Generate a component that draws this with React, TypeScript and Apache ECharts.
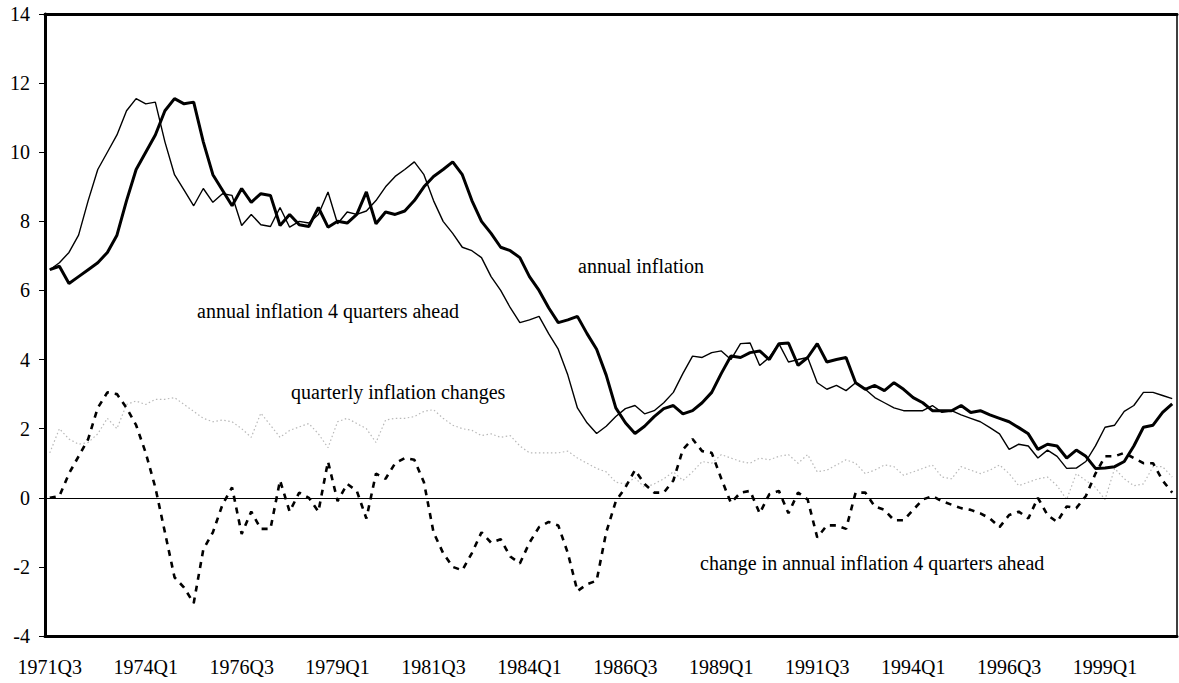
import React, { useEffect, useRef } from "react";
import * as echarts from "echarts";

// Quarterly categories 1971Q3 .. 2000Q4
const categories: string[] = [];
{
  let y = 1971;
  let q = 3;
  while (categories.length < 118) {
    categories.push(`${y}Q${q}`);
    q++;
    if (q > 4) {
      q = 1;
      y++;
    }
  }
}

const yTicks = { min: -4, max: 14, interval: 2 };

// annual inflation (thick line)
const annualInflation: number[] = [
  6.6, 6.7, 6.2, 6.4, 6.6, 6.8, 7.1, 7.6, 8.6, 9.5,
  10.0, 10.5, 11.2, 11.55, 11.4, 11.45, 10.3, 9.35, 8.9, 8.45,
  8.95, 8.55, 8.8, 8.75, 7.88, 8.2, 7.9, 7.85, 8.4, 7.83,
  8.0, 7.95, 8.2, 8.85, 7.93, 8.27, 8.2, 8.3, 8.6, 9.0,
  9.3, 9.5, 9.72, 9.35, 8.6, 8.0, 7.65, 7.25, 7.15, 6.95,
  6.4, 6.0, 5.5, 5.07, 5.15, 5.25, 4.75, 4.3, 3.55, 2.6,
  2.17, 1.86, 2.07, 2.35, 2.58, 2.67, 2.43, 2.52, 2.75, 3.05,
  3.6, 4.1, 4.06, 4.2, 4.25, 4.0, 4.46, 4.48, 3.83, 4.06,
  4.46, 3.93, 4.0, 4.06, 3.33, 3.14, 3.25, 3.1, 3.33, 3.14,
  2.9, 2.75, 2.52, 2.52, 2.52, 2.67, 2.47, 2.52, 2.4, 2.3,
  2.2, 2.03, 1.85, 1.4, 1.55, 1.5, 1.15, 1.38, 1.2, 0.85,
  0.86, 0.9, 1.05, 1.5, 2.04, 2.1, 2.47, 2.72,
];

// annual inflation 4 quarters ahead (thin line)
const annualInflation4Ahead: number[] = [
  6.6, 6.8, 7.1, 7.6, 8.6, 9.5, 10.0, 10.5, 11.2, 11.55,
  11.4, 11.45, 10.3, 9.35, 8.9, 8.45, 8.95, 8.55, 8.8, 8.75,
  7.88, 8.2, 7.9, 7.85, 8.4, 7.83, 8.0, 7.95, 8.2, 8.85,
  7.93, 8.27, 8.2, 8.3, 8.6, 9.0, 9.3, 9.5, 9.72, 9.35,
  8.6, 8.0, 7.65, 7.25, 7.15, 6.95, 6.4, 6.0, 5.5, 5.07,
  5.15, 5.25, 4.75, 4.3, 3.55, 2.6, 2.17, 1.86, 2.07, 2.35,
  2.58, 2.67, 2.43, 2.52, 2.75, 3.05, 3.6, 4.1, 4.06, 4.2,
  4.25, 4.0, 4.46, 4.48, 3.83, 4.06, 4.46, 3.93, 4.0, 4.06,
  3.33, 3.14, 3.25, 3.1, 3.33, 3.14, 2.9, 2.75, 2.6, 2.52,
  2.52, 2.52, 2.67, 2.47, 2.52, 2.4, 2.3, 2.2, 2.03, 1.85,
  1.4, 1.55, 1.5, 1.15, 1.38, 1.2, 0.85, 0.86, 1.05, 1.5,
  2.04, 2.1, 2.5, 2.67, 3.05, 3.05, 2.96, 2.87,
];

// change in annual inflation 4 quarters ahead (thick dashed)
const changeAhead: number[] = [
  0, 0.05, 0.7, 1.2, 1.7, 2.6, 3.05, 3.0, 2.6, 2.1,
  1.3, 0.3, -1.0, -2.3, -2.6, -3.05, -1.5, -1.0, -0.2, 0.3,
  -1.05, -0.4, -0.9, -0.9, 0.5, -0.4, 0.15, 0.0, -0.4, 1.05,
  -0.1, 0.4, 0.2, -0.6, 0.7, 0.55, 1.0, 1.15, 1.1, 0.45,
  -1.0, -1.6, -2.0, -2.1, -1.6, -1.0, -1.3, -1.2, -1.7, -1.9,
  -1.3, -0.85, -0.7, -0.8, -1.6, -2.7, -2.5, -2.4, -1.0, -0.1,
  0.3, 0.8, 0.4, 0.15, 0.15, 0.5, 1.4, 1.7, 1.35, 1.3,
  0.55, -0.15, 0.15, 0.2, -0.45, 0.1, 0.2, -0.45, 0.15, -0.05,
  -1.15, -0.8, -0.8, -0.9, 0.15, 0.15, -0.25, -0.35, -0.65, -0.65,
  -0.35, -0.05, 0.05, -0.1, -0.2, -0.3, -0.35, -0.45, -0.6, -0.85,
  -0.5, -0.4, -0.6, 0.0, -0.5, -0.7, -0.25, -0.3, 0.05, 0.7,
  1.2, 1.2, 1.3, 1.15, 1.0, 1.0, 0.5, 0.15,
];

// quarterly inflation changes (light grey dotted)
const quarterlyChanges: number[] = [
  1.3, 2.0, 1.7, 1.55, 1.6, 1.85, 2.3, 2.0, 2.7, 2.8,
  2.7, 2.85, 2.85, 2.9, 2.7, 2.5, 2.3, 2.2, 2.25, 2.2,
  2.0, 1.75, 2.45, 2.1, 1.75, 1.95, 2.05, 2.15, 1.85, 1.45,
  2.2, 2.3, 2.15, 2.0, 1.6, 2.25, 2.3, 2.3, 2.35, 2.5,
  2.55, 2.3, 2.1, 2.0, 1.95, 1.8, 1.85, 1.75, 1.8, 1.5,
  1.3, 1.3, 1.3, 1.3, 1.35, 1.15, 1.0, 0.85, 0.75, 0.45,
  0.4, 0.58, 0.3, 0.4, 0.55, 0.75, 0.5, 0.75, 1.05, 1.0,
  1.25, 1.15, 1.05, 1.0, 1.15, 1.1, 1.2, 1.25, 1.0, 1.25,
  0.75, 0.8, 0.95, 1.1, 1.0, 0.7, 0.8, 0.95, 0.9, 0.65,
  0.75, 0.85, 0.95, 0.6, 0.55, 0.9, 0.8, 0.7, 0.8, 0.95,
  0.7, 0.35, 0.45, 0.55, 0.6, 0.35, -0.05, 0.7, 0.5, 0.3,
  -0.05, 0.85, 0.55, 0.35, 0.4, 0.9, 0.9, 0.6,
];

const labels = [
  { text: "annual inflation", x: 578, y: 266 },
  { text: "annual inflation 4 quarters ahead", x: 197, y: 311 },
  { text: "quarterly inflation changes", x: 291, y: 392 },
  { text: "change in annual inflation 4 quarters ahead", x: 700, y: 563 },
];

const FONT = '"Liberation Serif", "Times New Roman", serif';

export default function App() {
  const ref = useRef<HTMLDivElement>(null);
  useEffect(() => {
    if (!ref.current) return;
    const chart = echarts.init(ref.current, undefined, { renderer: "svg" });
    chart.setOption({
      animation: false,
      backgroundColor: "#fff",
      textStyle: { fontFamily: FONT },
      grid: {
        left: 45,
        right: 2,
        top: 14,
        bottom: 47,
        show: true,
        borderColor: "#000",
        borderWidth: 1.5,
        backgroundColor: "transparent",
      },
      xAxis: [
        {
          type: "category",
          data: categories,
          boundaryGap: true,
          position: "bottom",
          axisLine: { show: true, lineStyle: { color: "#000", width: 3 }, onZero: false },
          axisTick: { show: false },
          axisLabel: {
            interval: 9,
            color: "#000",
            fontSize: 20,
            fontFamily: FONT,
            margin: 21,
          },
          splitLine: { show: false },
        },
        {
          type: "category",
          data: categories,
          boundaryGap: true,
          position: "top",
          axisLine: { show: true, lineStyle: { color: "#000", width: 3 }, onZero: false },
          axisTick: { show: false },
          axisLabel: { show: false },
          splitLine: { show: false },
        },
      ],
      yAxis: {
        type: "value",
        min: yTicks.min,
        max: yTicks.max,
        interval: yTicks.interval,
        axisLine: { show: true, lineStyle: { color: "#000", width: 3 }, onZero: false },
        axisTick: { show: true, length: 6, lineStyle: { color: "#000", width: 1 } },
        axisLabel: { color: "#000", fontSize: 20, fontFamily: FONT, margin: 15 },
        splitLine: { show: false },
      },
      series: [
        {
          name: "quarterly inflation changes",
          type: "line",
          data: quarterlyChanges,
          symbol: "none",
          lineStyle: { color: "#b8b8b8", width: 1.2, type: [1.5, 2.5] },
          z: 1,
        },
        {
          name: "annual inflation 4 quarters ahead",
          type: "line",
          data: annualInflation4Ahead,
          symbol: "none",
          lineStyle: { color: "#000", width: 1.4 },
          z: 3,
        },
        {
          name: "annual inflation",
          type: "line",
          data: annualInflation,
          symbol: "none",
          lineStyle: { color: "#000", width: 3 },
          z: 4,
        },
        {
          name: "change in annual inflation 4 quarters ahead",
          type: "line",
          data: changeAhead,
          symbol: "none",
          lineStyle: { color: "#000", width: 2.6, type: [6, 6] },
          z: 2,
          markLine: {
            silent: true,
            symbol: "none",
            label: { show: false },
            lineStyle: { color: "#000", width: 1, type: "solid" },
            data: [{ yAxis: 0 }],
          },
        },
      ],
      graphic: labels.map((l) => ({
        type: "text",
        x: l.x,
        y: l.y,
        style: {
          text: l.text,
          fill: "#000",
          font: `20px ${FONT}`,
          textVerticalAlign: "middle",
          verticalAlign: "middle",
        },
        z: 10,
      })),
    });
    return () => chart.dispose();
  }, []);
  return (
    <div
      ref={ref}
      style={{ position: "fixed", left: 0, top: 0, width: 1179, height: 683, background: "#fff" }}
    />
  );
}
